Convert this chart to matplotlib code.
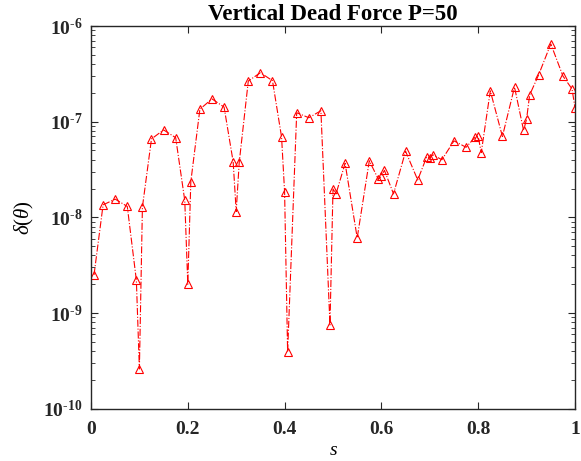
import matplotlib
matplotlib.use("Agg")
import matplotlib.pyplot as plt
from matplotlib.ticker import FixedLocator, LogLocator, NullFormatter

plt.rcParams['font.family'] = ['Liberation Serif', 'DejaVu Serif']
plt.rcParams['mathtext.fontset'] = 'custom'
plt.rcParams['mathtext.rm'] = 'Liberation Serif'
plt.rcParams['mathtext.it'] = 'Liberation Serif:italic'
plt.rcParams['mathtext.bf'] = 'Liberation Serif:bold'

s = [0.00625, 0.025, 0.05, 0.075, 0.09375, 0.1, 0.10625, 0.125, 0.15, 0.175,
     0.19375, 0.2, 0.20625, 0.225, 0.25, 0.275, 0.29375, 0.3, 0.30625, 0.325,
     0.35, 0.375, 0.39375, 0.4, 0.40625, 0.425, 0.45, 0.475, 0.49375, 0.5,
     0.50625, 0.525, 0.55, 0.575, 0.59375, 0.6, 0.60625, 0.625, 0.65, 0.675,
     0.69375, 0.7, 0.70625, 0.725, 0.75, 0.775, 0.79375, 0.8, 0.80625, 0.825,
     0.85, 0.875, 0.89375, 0.9, 0.90625, 0.925, 0.95, 0.975, 0.99375, 1.0]
delta = [2.5e-9, 1.35e-8, 1.55e-8, 1.3e-8, 2.2e-9, 2.6e-10, 1.28e-8, 6.6e-8, 8.2e-8, 6.8e-8,
         1.5e-8, 2.0e-9, 2.36e-8, 1.35e-7, 1.73e-7, 1.42e-7, 3.8e-8, 1.15e-8, 3.75e-8, 2.66e-7,
         3.25e-7, 2.68e-7, 6.9e-8, 1.84e-8, 3.9e-10, 1.24e-7, 1.1e-7, 1.3e-7, 7.5e-10, 1.98e-8,
         1.76e-8, 3.67e-8, 6.1e-9, 3.9e-8, 2.5e-8, 2.7e-8, 3.1e-8, 1.76e-8, 4.9e-8, 2.46e-8,
         4.3e-8, 4.2e-8, 4.5e-8, 4.0e-8, 6.3e-8, 5.4e-8, 6.9e-8, 7.0e-8, 4.75e-8, 2.1e-7,
         7.0e-8, 2.3e-7, 8.1e-8, 1.07e-7, 1.9e-7, 3.1e-7, 6.5e-7, 3.0e-7, 2.2e-7, 1.4e-7]

xticks = [0, 0.2, 0.4, 0.6, 0.8, 1]
xticklabels = ['0', '0.2', '0.4', '0.6', '0.8', '1']
yticks = [1e-10, 1e-9, 1e-8, 1e-7, 1e-6]
yticklabels = ['$\\mathbf{10^{\u2010' + e + '}}$' for e in ['10', '9', '8', '7', '6']]

fig = plt.figure(figsize=(5.81, 4.61), dpi=100)
ax = fig.add_axes([0.1566, 0.1135, 0.8331, 0.8301])

ax.semilogy(s, delta, linestyle='-.', color='red', linewidth=0.8,
            marker='^', markersize=5.8, markerfacecolor='none',
            markeredgecolor='red', markeredgewidth=0.8)

ax.set_xlim(0, 1)
ax.set_ylim(1e-10, 1e-6)
ax.set_xticks(xticks)
ax.set_xticklabels(xticklabels, fontsize=14, fontweight='bold')
ax.yaxis.set_major_locator(FixedLocator(yticks))
ax.set_yticklabels(yticklabels, fontsize=14)
ax.yaxis.set_minor_locator(LogLocator(base=10, subs=range(2, 10), numticks=20))
ax.yaxis.set_minor_formatter(NullFormatter())

ax.tick_params(which='both', direction='in', top=True, right=True, colors='#262626')
ax.tick_params(which='major', length=5, width=0.8)
ax.tick_params(axis='x', which='major', pad=9)
ax.tick_params(axis='y', which='major', pad=6)
ax.tick_params(which='minor', length=3, width=0.6)
for sp in ax.spines.values():
    sp.set_color('#262626')
    sp.set_linewidth(1.0)

ax.set_title('Vertical Dead Force P=50', fontsize=16.5, fontweight='bold', pad=4)
ax.set_xlabel(r'$s$', fontsize=14, labelpad=3)
ax.set_ylabel(r'$\delta(\theta)$', fontsize=15, labelpad=5)

fig.savefig('out.png', dpi=100)
